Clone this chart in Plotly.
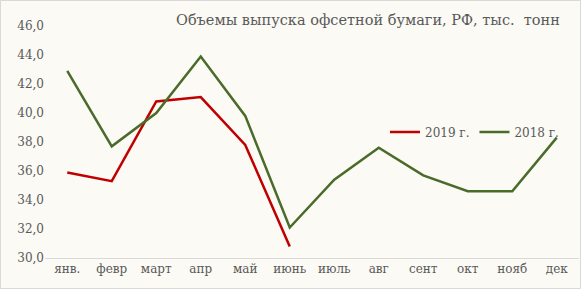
import plotly.graph_objects as go

months = ["янв.", "февр", "март", "апр", "май", "июнь", "июль", "авг", "сент", "окт", "нояб", "дек"]
y2019 = [35.9, 35.3, 40.8, 41.1, 37.8, 30.8]
y2018 = [42.9, 37.7, 40.0, 43.9, 39.8, 32.1, 35.4, 37.6, 35.7, 34.6, 34.6, 38.3]
yticks = [30, 32, 34, 36, 38, 40, 42, 44, 46]

W, H = 581, 289
L, R, T, B = 45, 2, 26, 31

fig = go.Figure()
fig.add_trace(go.Scatter(x=months[:len(y2019)], y=y2019, name="2019 г.", mode="lines",
                         line=dict(color="#C00000", width=2.5)))
fig.add_trace(go.Scatter(x=months, y=y2018, name="2018 г.", mode="lines",
                         line=dict(color="#4A6B2A", width=2.5)))

font = "DejaVu Serif, serif"
pw = W - L - R
ph = H - T - B
fig.update_layout(
    width=W, height=H,
    margin=dict(l=L, r=R, t=T, b=B),
    paper_bgcolor="#FBFAF5", plot_bgcolor="#FBFAF5",
    separators=", ",
    font=dict(family=font, color="#595959", size=12),
    showlegend=True,
    legend=dict(orientation="h", x=(385 - L) / pw, y=(H - B - 132) / ph, xanchor="left", yanchor="middle",
                bgcolor="rgba(0,0,0,0)", font=dict(size=12, color="#595959"),
                itemwidth=30, tracegroupgap=0),
    annotations=[dict(text="Объемы выпуска офсетной бумаги, РФ, тыс.  тонн",
                      xref="paper", yref="paper", x=(562 - L) / pw, y=(H - B - 20) / ph,
                      xanchor="right", yanchor="middle", showarrow=False,
                      font=dict(family=font, size=14.5, color="#595959"))],
    shapes=[dict(type="rect", xref="paper", yref="paper",
                 x0=(0.5 - L) / pw, x1=(W - 0.5 - L) / pw,
                 y0=(H - B - H + 0.5) / ph, y1=(H - B - 0.5) / ph,
                 line=dict(color="#D9D9D9", width=1), fillcolor="rgba(0,0,0,0)", layer="below")],
    xaxis=dict(type="category", categoryorder="array", categoryarray=months,
               showgrid=False, showline=True, linecolor="#D9D9D9", linewidth=1,
               ticks="", tickfont=dict(size=12, color="#595959"), range=[-0.5, 11.5]),
    yaxis=dict(range=[30, 46], tickvals=yticks, tickformat=".1f", showgrid=False,
               zeroline=False, showline=False, ticks="",
               tickfont=dict(size=12, color="#595959")),
)

fig.write_html("out.html")
